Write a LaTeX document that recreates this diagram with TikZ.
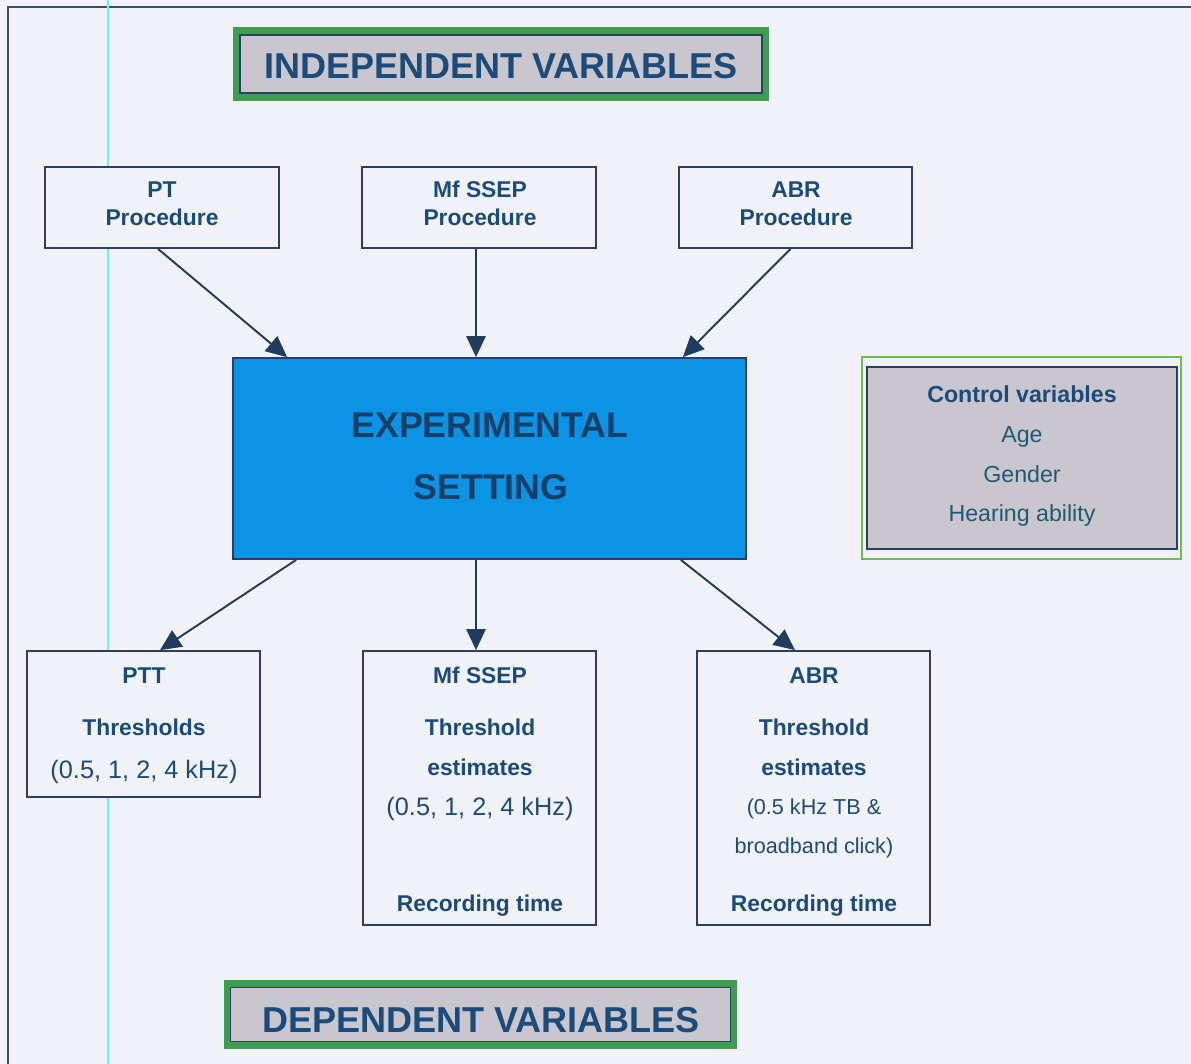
\documentclass[tikz,border=0pt]{standalone}
\usepackage{fontspec}
\setmainfont{Liberation Sans}
\usetikzlibrary{arrows.meta,calc}
\definecolor{bgc}{HTML}{F1F2F8}
\definecolor{navy}{HTML}{1B4B7A}
\definecolor{teal}{HTML}{1F5A73}
\definecolor{bord}{HTML}{2B3F66}
\definecolor{arrc}{HTML}{1F3B5E}
\definecolor{expblue}{HTML}{0D93E3}
\definecolor{titlegray}{HTML}{C9C6CE}
\definecolor{tgreen}{HTML}{3E9E4F}
\definecolor{lgreen}{HTML}{6CBF4A}
\definecolor{scancyan}{HTML}{6FF2F2}
\tikzset{
  pbox/.style={draw=bord, line width=1pt, fill=bgc, inner sep=0pt},
  lbl/.style={text=navy, anchor=base, inner sep=0pt, font=\fontsize{13}{15}\selectfont\bfseries},
  lblr/.style={text=navy, anchor=base, inner sep=0pt, font=\fontsize{14.4}{16}\selectfont},
  lbls/.style={text=navy, anchor=base, inner sep=0pt, font=\fontsize{12.3}{14}\selectfont},
  ctl/.style={text=teal, anchor=base, inner sep=0pt, font=\fontsize{13.2}{15}\selectfont},
  big/.style={text=navy, anchor=base, inner sep=0pt, font=\fontsize{20.5}{24}\selectfont\bfseries},
  arr/.style={draw=arrc, line width=1.1pt, -{Triangle[length=12pt,width=11pt]}},
  gframe/.style={draw=tgreen, line width=4pt, fill=titlegray, inner sep=0pt},
  gin/.style={draw=bord, line width=0.8pt, inner sep=0pt},
}
\begin{document}
\begin{tikzpicture}[x=0.02cm,y=-0.02cm]
\useasboundingbox (0,0) rectangle (1191,1064);
\fill[bgc] (0,0) rectangle (1191,1064);
\coordinate (fTL) at (8,7);
\coordinate (fTR) at (1191,7);
\coordinate (fBL) at (8,1064);
\draw[draw=bord!80!gray, line width=1.2pt] (fBL) -- (fTL) -- (fTR);
\coordinate (cyT) at (108,0);
\coordinate (cyB) at (108,1064);
\draw[scancyan, line width=1.6pt] (cyT) -- (cyB);

% independent title
\node[gframe, minimum width=528*0.02cm, minimum height=66*0.02cm] (indep) at (501,64) {};
\node[gin, minimum width=522*0.02cm, minimum height=58*0.02cm] (indepin) at (501,64) {};
\node[big] (indept) at (501,79) {INDEPENDENT VARIABLES};

% top boxes
\node[pbox, minimum width=234*0.02cm, minimum height=81*0.02cm] (PT) at (162,207.5) {};
\node[pbox, minimum width=234*0.02cm, minimum height=81*0.02cm] (MfT) at (479,207.5) {};
\node[pbox, minimum width=233*0.02cm, minimum height=81*0.02cm] (ABRT) at (795.5,207.5) {};
\node[lbl] (PTa) at (162,198) {PT};
\node[lbl] (PTb) at (162,226) {Procedure};
\node[lbl] (MfTa) at (480,198) {Mf SSEP};
\node[lbl] (MfTb) at (480,226) {Procedure};
\node[lbl] (ABRTa) at (796,198) {ABR};
\node[lbl] (ABRTb) at (796,226) {Procedure};

% experimental setting
\node[draw=bord, line width=1pt, fill=expblue, minimum width=513*0.02cm, minimum height=201*0.02cm, inner sep=0pt] (Exp) at (489.5,458.5) {};
\node[big, font=\fontsize{20.3}{24}\selectfont\bfseries, text=navy!85!black] (Expa) at (490,438) {EXPERIMENTAL};
\node[big, font=\fontsize{20.3}{24}\selectfont\bfseries, text=navy!85!black] (Expb) at (491,500) {SETTING};

% control variables
\node[draw=lgreen, line width=1pt, fill=bgc, minimum width=319*0.02cm, minimum height=202*0.02cm, inner sep=0pt] (Ctlo) at (1021.5,458) {};
\node[draw=bord, line width=0.9pt, fill=titlegray, minimum width=310*0.02cm, minimum height=182*0.02cm, inner sep=0pt] (Ctl) at (1022,458) {};
\node[ctl, font=\fontsize{13.2}{15}\selectfont\bfseries, text=navy] (Ctla) at (1022,402) {Control variables};
\node[ctl] (Ctlb) at (1022,442) {Age};
\node[ctl] (Ctlc) at (1022,482) {Gender};
\node[ctl] (Ctld) at (1022,521) {Hearing ability};

% bottom boxes
\node[pbox, minimum width=233*0.02cm, minimum height=146*0.02cm] (PTT) at (143.5,724) {};
\node[pbox, minimum width=233*0.02cm, minimum height=274*0.02cm] (MfB) at (479.5,788) {};
\node[pbox, minimum width=233*0.02cm, minimum height=274*0.02cm] (ABRB) at (813.5,788) {};

\node[lbl] (PTTa) at (144,683) {PTT};
\node[lbl] (PTTb) at (144,735) {Thresholds};
\node[lblr] (PTTc) at (144,778) {(0.5, 1, 2, 4 kHz)};

\node[lbl] (MfBa) at (480,683) {Mf SSEP};
\node[lbl] (MfBb) at (480,735) {Threshold};
\node[lbl] (MfBc) at (480,775) {estimates};
\node[lblr] (MfBd) at (480,815) {(0.5, 1, 2, 4 kHz)};
\node[lbl] (MfBe) at (480,911) {Recording time};

\node[lbl] (ABRBa) at (814,683) {ABR};
\node[lbl] (ABRBb) at (814,735) {Threshold};
\node[lbl] (ABRBc) at (814,775) {estimates};
\node[lbls] (ABRBd) at (814,814) {(0.5 kHz TB \&};
\node[lbls] (ABRBe) at (814,853) {broadband click)};
\node[lbl] (ABRBf) at (814,911) {Recording time};

% dependent title
\node[gframe, minimum width=506*0.02cm, minimum height=62*0.02cm] (dep) at (480.5,1014.5) {};
\node[gin, minimum width=500*0.02cm, minimum height=54*0.02cm] (depin) at (480.5,1014.5) {};
\node[big] (dept) at (481,1032) {DEPENDENT VARIABLES};

% arrows in
\coordinate (mfx) at ($(MfT.south)+(-3,0)$);
\draw[arr] ($(PT.south)+(-4,0)$) -- ($(Exp.north west)+(55,0)$);
\draw[arr] (mfx) -- (mfx |- Exp.north);
\draw[arr] ($(ABRT.south)+(-5,0)$) -- ($(Exp.north east)+(-64,0)$);
% arrows out
\coordinate (mfy) at ($(MfB.north)+(-3.5,0)$);
\draw[arr] ($(Exp.south west)+(64,0)$) -- ($(PTT.north)+(16.5,0)$);
\draw[arr] (mfy |- Exp.south) -- (mfy);
\draw[arr] ($(Exp.south east)+(-66,0)$) -- ($(ABRB.north)+(-18.5,0)$);
\end{tikzpicture}
\end{document}
